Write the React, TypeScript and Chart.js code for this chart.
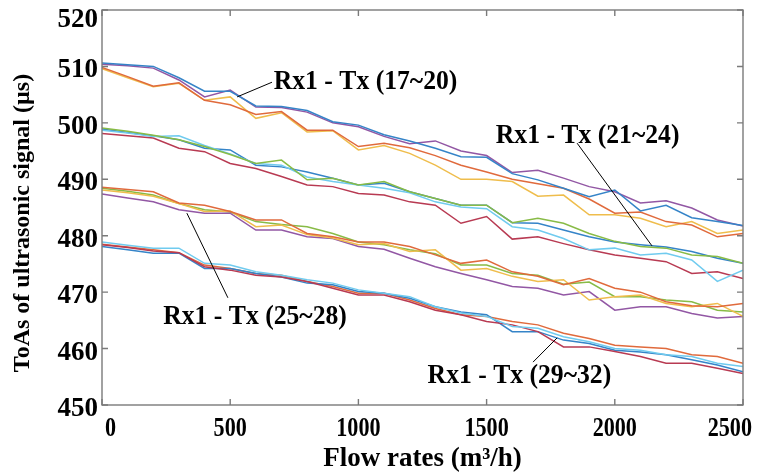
import React, { useEffect, useRef } from "react";
import { Chart, registerables } from "chart.js";

Chart.register(...registerables);

const flowRates = [0, 100, 200, 300, 400, 500, 600, 700, 800, 900, 1000, 1100, 1200, 1300, 1400, 1500, 1600, 1700, 1800, 1900, 2000, 2100, 2200, 2300, 2400, 2500];

const tx17 = [510.6, 510.3, 510.0, 508.0, 505.6, 505.6, 503.0, 502.9, 502.2, 500.2, 499.6, 497.9, 496.8, 495.5, 494.0, 493.9, 491.0, 489.9, 488.4, 486.9, 488.1, 484.4, 485.4, 483.2, 482.5, 481.8];
const tx18 = [509.8, 508.2, 506.5, 507.1, 504.0, 503.2, 501.5, 502.0, 498.7, 498.7, 495.8, 496.4, 495.6, 494.2, 492.5, 491.3, 490.0, 489.2, 488.4, 486.5, 484.0, 484.2, 482.5, 481.9, 479.8, 480.4];
const tx19 = [509.6, 508.0, 506.4, 507.0, 504.0, 504.6, 500.8, 501.8, 498.4, 498.6, 495.2, 496.0, 494.6, 492.5, 490.0, 490.0, 489.6, 487.0, 487.2, 483.7, 483.7, 483.1, 481.6, 482.5, 480.4, 481.0];
const tx20 = [510.4, 510.1, 509.7, 507.6, 504.6, 505.8, 502.8, 502.7, 501.9, 500.0, 499.3, 497.6, 496.3, 496.8, 495.0, 494.2, 491.2, 491.6, 490.2, 488.7, 487.8, 485.8, 486.2, 484.9, 482.8, 481.7];

const tx21 = [499.1, 498.5, 497.8, 497.0, 495.8, 494.4, 492.8, 493.4, 489.9, 490.2, 489.0, 489.6, 487.8, 486.6, 485.4, 485.4, 482.3, 483.1, 482.2, 480.4, 479.0, 478.1, 477.8, 476.6, 476.3, 475.1];
const tx22 = [498.7, 498.2, 497.6, 497.7, 496.0, 494.5, 492.8, 492.5, 490.4, 489.6, 489.0, 488.4, 487.6, 486.0, 485.1, 484.8, 481.6, 481.0, 479.5, 477.5, 477.8, 476.6, 476.9, 475.7, 471.9, 473.9];
const tx23 = [498.1, 497.7, 497.3, 495.5, 494.9, 492.8, 491.9, 490.5, 489.0, 488.7, 487.5, 487.2, 486.0, 485.4, 482.2, 483.4, 479.4, 479.8, 478.6, 477.5, 476.6, 476.0, 475.4, 473.3, 473.6, 472.4];
const tx24 = [498.9, 498.3, 497.7, 497.0, 495.5, 495.2, 492.5, 492.2, 491.3, 490.2, 489.0, 489.3, 487.8, 486.6, 485.4, 485.4, 482.3, 482.2, 481.0, 479.8, 478.9, 478.4, 478.0, 477.2, 476.0, 475.1];

const tx25 = [488.6, 488.2, 487.8, 485.8, 485.4, 484.3, 482.8, 482.8, 480.4, 479.8, 478.9, 478.9, 478.1, 476.6, 475.1, 475.7, 473.6, 472.8, 471.3, 472.4, 470.7, 470.0, 468.3, 467.6, 467.4, 468.0];
const tx26 = [488.1, 487.6, 487.0, 485.7, 484.3, 484.4, 481.6, 481.9, 480.2, 479.6, 478.4, 478.6, 477.2, 477.5, 473.9, 474.2, 472.8, 471.9, 472.2, 468.6, 469.2, 469.5, 468.0, 467.4, 468.0, 465.7];
const tx27 = [487.4, 486.7, 486.0, 484.6, 484.0, 484.0, 481.0, 481.0, 479.8, 479.5, 478.1, 477.6, 476.0, 474.5, 473.3, 472.2, 471.0, 470.7, 469.5, 470.1, 466.8, 467.4, 467.4, 466.2, 465.4, 465.7];
const tx28 = [488.4, 487.9, 487.2, 485.7, 484.6, 484.2, 482.5, 482.0, 481.6, 480.4, 478.9, 478.4, 477.5, 476.8, 474.8, 474.8, 473.3, 473.0, 471.4, 471.8, 469.2, 469.2, 468.6, 468.3, 466.8, 466.5];

const tx29 = [478.9, 478.3, 477.8, 477.8, 475.1, 474.8, 473.6, 473.0, 472.2, 471.6, 470.4, 469.8, 469.2, 467.4, 466.3, 465.7, 463.9, 463.6, 462.1, 461.2, 460.0, 459.7, 458.9, 458.6, 457.4, 456.8];
const tx30 = [478.4, 477.9, 477.3, 477.0, 474.5, 473.9, 473.0, 472.7, 471.9, 470.7, 469.5, 469.5, 468.3, 466.8, 466.0, 464.8, 464.2, 463.0, 460.3, 460.3, 459.5, 458.6, 457.4, 457.4, 456.5, 455.6];
const tx31 = [478.1, 477.5, 476.9, 476.9, 474.2, 474.2, 473.3, 472.7, 471.6, 471.3, 470.1, 469.8, 468.9, 467.4, 466.5, 466.0, 463.0, 463.0, 461.5, 460.9, 459.7, 459.4, 458.9, 458.0, 457.1, 455.9];
const tx32 = [478.5, 478.0, 477.5, 477.0, 474.8, 474.2, 473.3, 473.0, 471.9, 471.0, 469.8, 469.8, 468.6, 467.1, 466.0, 465.7, 464.8, 464.2, 462.7, 461.8, 460.6, 460.3, 460.0, 458.9, 458.6, 457.4];

const seriesNames = ["Tx17", "Tx18", "Tx19", "Tx20", "Tx21", "Tx22", "Tx23", "Tx24", "Tx25", "Tx26", "Tx27", "Tx28", "Tx29", "Tx30", "Tx31", "Tx32"];
const seriesValues = [tx17, tx18, tx19, tx20, tx21, tx22, tx23, tx24, tx25, tx26, tx27, tx28, tx29, tx30, tx31, tx32];

const palette = ["#3584c8", "#e06a3c", "#efbd4c", "#9257a4", "#88bb46", "#70cbef", "#b83a52"];

const xTicks = [0, 500, 1000, 1500, 2000, 2500];
const yTicks = [450, 460, 470, 480, 490, 500, 510, 520];

const xTitle = "Flow rates (m³/h)";
const yTitle = "ToAs of ultrasonic signal (µs)";

// annotations: [label, textX, textBaselineY, leaderFromX, leaderFromY, leaderToX, leaderToY] in data units
const annoLabels = ["Rx1 - Tx (17~20)", "Rx1 - Tx (21~24)", "Rx1 - Tx (25~28)", "Rx1 - Tx (29~32)"];
const annoText = [[1028, 506.0], [1894, 496.4], [597, 464.4], [1628, 453.9]];
const annoLeader = [[663, 507.2, 527, 504.6], [1853, 496.4, 2145, 478.2], [491, 469.0, 331, 484.0], [1681, 457.6, 1775, 461.9]];

const FONT = '"Liberation Serif", "Times New Roman", serif';

function drawText(ctx: CanvasRenderingContext2D, s: string, x: number, y: number, size: number, opts: any = {}) {
  ctx.save();
  ctx.translate(x, y);
  if (opts.rot) ctx.rotate(opts.rot);
  ctx.scale(opts.sx ?? 1, opts.sy ?? 1);
  ctx.font = `bold ${size}px ${FONT}`;
  ctx.textAlign = opts.align ?? "center";
  ctx.textBaseline = opts.base ?? "alphabetic";
  ctx.fillStyle = "#000";
  ctx.fillText(s, 0, 0);
  ctx.restore();
}

const decorPlugin = {
  id: "decor",
  afterDatasetsDraw(chart: any) {
    const ctx: CanvasRenderingContext2D = chart.ctx;
    const { left, right, top, bottom } = chart.chartArea;
    const xs = chart.scales.x;
    const ys = chart.scales.y;

    // box
    ctx.save();
    ctx.strokeStyle = "#7a7a7a";
    ctx.lineWidth = 1.4;
    ctx.strokeRect(left, top, right - left, bottom - top);
    // inward ticks
    ctx.beginPath();
    const tl = 6;
    xTicks.forEach((v) => {
      const px = xs.getPixelForValue(v);
      ctx.moveTo(px, bottom);
      ctx.lineTo(px, bottom - tl);
      ctx.moveTo(px, top);
      ctx.lineTo(px, top + tl);
    });
    yTicks.forEach((v) => {
      const py = ys.getPixelForValue(v);
      ctx.moveTo(left, py);
      ctx.lineTo(left + tl, py);
      ctx.moveTo(right, py);
      ctx.lineTo(right - tl, py);
    });
    ctx.stroke();
    ctx.restore();

    // x tick labels
    const xSize = 27;
    const xSx = 0.82;
    ctx.font = `bold ${xSize}px ${FONT}`;
    xTicks.forEach((v) => {
      const s = String(v);
      const w = ctx.measureText(s).width * xSx;
      let cx = xs.getPixelForValue(v);
      cx = Math.max(cx, left + 3 + w / 2);
      cx = Math.min(cx, chart.width - 7 - w / 2);
      drawText(ctx, s, cx, bottom + 31, xSize, { sx: xSx });
      ctx.font = `bold ${xSize}px ${FONT}`;
    });

    // y tick labels
    yTicks.forEach((v) => {
      const py = ys.getPixelForValue(v);
      drawText(ctx, String(v), left - 4, Math.max(py + 11, top + 17), 27, { align: "right" });
    });

    // axis titles
    drawText(ctx, xTitle, (left + right) / 2, bottom + 61, 27);
    drawText(ctx, yTitle, 23, 223, 24, { rot: -Math.PI / 2, base: "middle" });

    // annotations
    ctx.save();
    ctx.strokeStyle = "#000";
    ctx.lineWidth = 1;
    ctx.beginPath();
    annoLeader.forEach(([x1, y1, x2, y2]) => {
      ctx.moveTo(xs.getPixelForValue(x1), ys.getPixelForValue(y1));
      ctx.lineTo(xs.getPixelForValue(x2), ys.getPixelForValue(y2));
    });
    ctx.stroke();
    ctx.restore();
    annoLabels.forEach((lab, i) => {
      const [tx, ty] = annoText[i];
      drawText(ctx, lab, xs.getPixelForValue(tx), ys.getPixelForValue(ty), 27, { sx: 0.95 });
    });
  },
};

export default function App() {
  const ref = useRef<HTMLCanvasElement | null>(null);
  useEffect(() => {
    if (!ref.current) return;
    const datasets = seriesValues.map((vals, i) => ({
      label: seriesNames[i],
      data: flowRates.map((x, j) => ({ x, y: vals[j] })),
      borderColor: palette[i % palette.length],
      backgroundColor: palette[i % palette.length],
      borderWidth: 1.5,
      pointRadius: 0,
      tension: 0,
      fill: false,
    }));
    const chart = new Chart(ref.current, {
      type: "line",
      data: { datasets },
      options: {
        animation: false,
        responsive: false,
        maintainAspectRatio: false,
        events: [],
        layout: { padding: { left: 102, right: 16, top: 10, bottom: 71 } },
        plugins: { legend: { display: false }, tooltip: { enabled: false }, title: { display: false } },
        scales: {
          x: {
            type: "linear",
            min: 0,
            max: 2500,
            ticks: { display: false },
            grid: { display: false },
            border: { display: false },
            afterFit: (s: any) => { s.height = 0; s.paddingLeft = 0; s.paddingRight = 0; },
          },
          y: {
            type: "linear",
            min: 450,
            max: 520,
            ticks: { display: false },
            grid: { display: false },
            border: { display: false },
            afterFit: (s: any) => { s.width = 0; s.paddingTop = 0; s.paddingBottom = 0; },
          },
        },
      },
      plugins: [decorPlugin],
    });
    return () => chart.destroy();
  }, []);
  return (
    <div style={{ position: "fixed", left: 0, top: 0, width: 759, height: 476, background: "#fff" }}>
      <canvas ref={ref} width={759} height={476} style={{ width: 759, height: 476, display: "block" }} />
    </div>
  );
}
